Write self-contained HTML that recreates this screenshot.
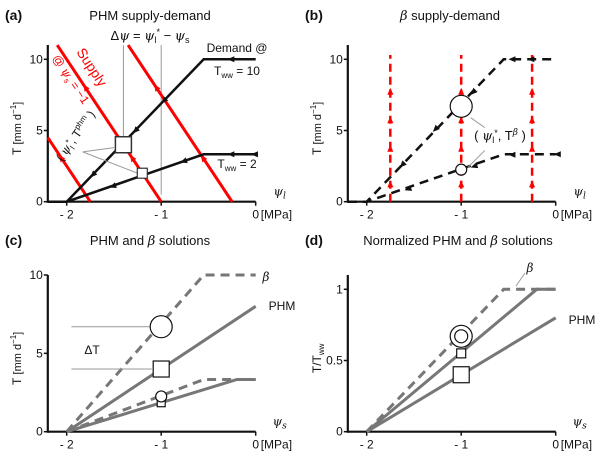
<!DOCTYPE html>
<html><head><meta charset="utf-8">
<style>
body{margin:0;background:#fff;}
svg{display:block;font-family:"Liberation Sans","DejaVu Sans",sans-serif;}
.t{font-size:13px;fill:#111}
.tk{font-size:12px;fill:#111}
.pl{font-size:14px;font-weight:bold;fill:#111}
.gi{font-family:"DejaVu Serif","Liberation Serif",serif;font-style:italic}
</style></head>
<body>
<svg id="fig" width="600" height="455" viewBox="0 0 600 455">
<g id="root"></g>
</svg>
<script>
// ---- data ----
const xTicks = [-2, -1, 0];
const xTickLabels = ['- 2', '- 1', '0'];
const tTicks = [0, 5, 10];
const nTicks = [0, 0.5, 1];
const nTickLabels = ['0', '0.5', '1'];
const supplyIntercepts = [-1.75, -1, -0.25];
const supplySlope = 10;
const demandHighPsi = [-2.2, -2, -0.55, 0];
const demandHighT = [0, 0, 10, 10];
const demandLowPsi = [-2.2, -2, -0.55, 0];
const demandLowT = [0, 0, 3.33, 3.33];
const phmHighPsi = [-2, 0];
const phmHighT = [0, 8];
const phmLowPsi = [-2, -0.2, 0];
const phmLowT = [0, 3.33, 3.33];
const betaHighPsi = [-2, -0.55, 0];
const betaHighT = [0, 10, 10];
const betaLowPsi = [-2, -0.55, 0];
const betaLowT = [0, 3.33, 3.33];
const normBetaPsi = [-2, -0.55, 0];
const normBetaT = [0, 1, 1];
const normPhmLowTwwPsi = [-2, -0.2, 0];
const normPhmLowTwwT = [0, 1, 1];
const normPhmHighTwwPsi = [-2, 0];
const normPhmHighTwwT = [0, 0.8];
const phmSolution = [[-1.4, 4], [-1.2, 2]];
const betaSolution = [[-1, 6.7], [-1, 2.25]];
const cSolPhm = [[-1, 4], [-1, 1.85]];
const cSolBeta = [[-1, 6.7], [-1, 2.25]];
const dSol = [[-1, 0.67], [-1, 0.55], [-1, 0.4]];

const NS = 'http://www.w3.org/2000/svg';
const root = document.getElementById('root');
function el(tag, attrs, parent){ const e = document.createElementNS(NS, tag); for (const k in attrs) e.setAttribute(k, attrs[k]); (parent||root).appendChild(e); return e; }
function txt(x, y, s, cls, anchor, parent){ const e = el('text', {x:x, y:y, class:cls, 'text-anchor':anchor||'start'}, parent); e.innerHTML = s; return e; }

function axes(ox, oy, yScale, yMax){
  return { x: v => ox + 94.5 * (v + 2), y: v => oy - yScale * v, ox: ox, oy: oy, yTop: oy - yScale * yMax };
}
const A = axes(66.7, 201.7, 14.24, 11);
const B = axes(366.7, 201.7, 14.24, 11);
const C = axes(66.7, 431.7, 15.67, 10);
const D = axes(366.7, 431.7, 142.4, 1.1);

function poly(ax, xs, ys, style, name){
  const pts = xs.map((v,i) => ax.x(v).toFixed(1) + ',' + ax.y(ys[i]).toFixed(1)).join(' ');
  const p = el('polyline', Object.assign({points: pts, fill:'none'}, style));
  
  
  return p;
}
function arrow(x, y, ang, color, name){
  const g = el('polygon', {points:'0,0 -7,-3 -7,3', fill:color, transform:`translate(${x},${y}) rotate(${ang})`});
  
  
}
function frame(ax, ticks, labels, yLabelHtml, xLabel, name){
  const g = el('g', {});
  
  
  el('line', {x1:ax.x(-2.2), y1:ax.oy, x2:ax.x(0), y2:ax.oy, stroke:'#111', 'stroke-width':2.2}, g);
  el('line', {x1:ax.x(-2.2), y1:ax.oy+1, x2:ax.x(-2.2), y2:ax.yTop, stroke:'#111', 'stroke-width':2.2}, g);
  xTicks.forEach((v,i) => {
    el('line', {x1:ax.x(v), y1:ax.oy, x2:ax.x(v), y2:ax.oy+4, stroke:'#111', 'stroke-width':1.5}, g);
    const t = txt(ax.x(v), ax.oy+17, xTickLabels[i], 'tk', 'middle', g);
    
    
  });
  ticks.forEach((v,i) => {
    el('line', {x1:ax.x(-2.2)-4, y1:ax.y(v), x2:ax.x(-2.2), y2:ax.y(v), stroke:'#111', 'stroke-width':1.5}, g);
    const t = txt(ax.x(-2.2)-5, ax.y(v)+4, labels[i], 'tk', 'end', g);
    
    
  });
  const yl = el('text', {x:0, y:0, class:'tk', 'text-anchor':'middle', transform:`translate(${ax.x(-2.2)-27},${(ax.oy+ax.yTop)/2+5}) rotate(-90)`}, g);
  yl.innerHTML = yLabelHtml;
  
  
  const xl = txt(ax.x(0)+24, ax.oy-6, xLabel, 'tk gi', 'middle', g);
  
  
  const xu = txt(ax.x(0)+5, ax.oy+17, '[MPa]', 'tk', 'start', g);
  
  
}
const tLabel = 'T <tspan font-size="11">[mm d<tspan dy="-5" font-size="8">−1</tspan><tspan dy="5">]</tspan></tspan>';
const psiL = 'ψ<tspan font-size="9" dy="3">l</tspan>';
const psiS = 'ψ<tspan font-size="9" dy="3">s</tspan>';

function heading(x, lbl, y){
  const a = txt(x, y, lbl, 'pl');  
}
const UP_LEFT = -123.5, DL_HIGH = 134, DL_LOW = 161;

// ---------- Panel A ----------
heading(5, '(a)', 20);
let h = txt(150, 20, 'PHM supply-demand', 't', 'middle');  
frame(A, tTicks, ['0','5','10'], tLabel, psiL, 'panel-a-axes');
el('line',{x1:A.x(-1.4),y1:A.y(11),x2:A.x(-1.4),y2:A.y(4.5),stroke:'#999','stroke-width':1});
el('line',{x1:A.x(-1),y1:A.y(11),x2:A.x(-1),y2:A.y(0.5),stroke:'#999','stroke-width':1});
h = txt(150, 40, 'Δ<tspan class="gi">ψ</tspan> = <tspan class="gi">ψ</tspan><tspan font-size="9" dy="3">l</tspan><tspan font-size="9" dy="-8">*</tspan><tspan dy="5"> − </tspan><tspan class="gi">ψ</tspan><tspan font-size="9" dy="3">s</tspan>', 't', 'middle');
 
supplyIntercepts.forEach((c, i) => {
  const lo = Math.max(-2.2, c - 1.1);
  poly(A, [lo, c], [supplySlope*(c-lo), 0], {stroke:'#f00','stroke-width':3}, 'supply-line-' + i);
  [0.3, 0.75].forEach(f => {
    const v = c - 1.1*f; if (v < -2.2) return;
    arrow(A.x(v), A.y(supplySlope*(c-v)), UP_LEFT, '#f00', 'supply-arrow');
  });
});
poly(A, demandHighPsi, demandHighT, {stroke:'#111','stroke-width':2.5}, 'demand-line-tww10');
poly(A, demandLowPsi, demandLowT, {stroke:'#111','stroke-width':2.5}, 'demand-line-tww2');
arrow(A.x(-0.3), A.y(10), 180, '#111', 'demand-arrow');
arrow(A.x(-0.05), A.y(3.33), 180, '#111', 'demand-arrow');
arrow(A.x(-0.3), A.y(3.33), 180, '#111', 'demand-arrow');
arrow(A.x(-1.0), A.y(6.9), DL_HIGH, '#111', 'demand-arrow');
arrow(A.x(-1.3), A.y(4.8), DL_HIGH, '#111', 'demand-arrow');
arrow(A.x(-1.75), A.y(1.7), DL_HIGH, '#111', 'demand-arrow');
arrow(A.x(-0.8), A.y(2.75), DL_LOW, '#111', 'demand-arrow');
arrow(A.x(-1.55), A.y(1.0), DL_LOW, '#111', 'demand-arrow');
el('line',{x1:A.x(-1.83),y1:A.y(3.5),x2:A.x(-1.5),y2:A.y(3.8),stroke:'#999','stroke-width':1});
el('line',{x1:A.x(-1.83),y1:A.y(3.5),x2:A.x(-1.25),y2:A.y(2.0),stroke:'#999','stroke-width':1});
let m = el('rect',{x:A.x(phmSolution[0][0])-8,y:A.y(phmSolution[0][1])-8,width:16,height:16,fill:'#fff',stroke:'#333','stroke-width':1.5});
 
m = el('rect',{x:A.x(phmSolution[1][0])-5,y:A.y(phmSolution[1][1])-5,width:10,height:10,fill:'#fff',stroke:'#333','stroke-width':1.2});
 
h = txt(237, 52, 'Demand @', 'tk', 'middle');  
h = txt(237, 75, 'T<tspan font-size="8" dy="3">ww</tspan><tspan dy="-3"> = 10</tspan>', 'tk', 'middle');  
h = txt(237, 168, 'T<tspan font-size="8" dy="3">ww</tspan><tspan dy="-3"> = 2</tspan>', 'tk', 'middle');  
h = el('text',{x:0,y:0,fill:'#f00','font-size':14,transform:'translate(76,52) rotate(56.5)'}); h.textContent='Supply';  
h = el('text',{x:0,y:0,fill:'#f00','font-size':12,transform:'translate(52,58) rotate(56.5)'}); h.innerHTML='@ <tspan class="gi">ψ</tspan><tspan font-size="8" dy="3">s</tspan><tspan dy="-3"> = −1</tspan>';  
h = el('text',{x:0,y:0,fill:'#111','font-size':12,transform:'translate(62,162) rotate(-55)'}); h.innerHTML='( <tspan class="gi">ψ</tspan><tspan font-size="8" dy="3">l</tspan><tspan font-size="8" dy="-7">*</tspan><tspan dy="4">, T</tspan><tspan font-size="8" dy="-5">phm</tspan><tspan dy="5"> )</tspan>';  

// ---------- Panel B ----------
heading(305, '(b)', 20);
h = txt(450, 20, '<tspan class="gi">β</tspan> supply-demand', 't', 'middle');  
frame(B, tTicks, ['0','5','10'], tLabel, psiL, 'panel-b-axes');
supplyIntercepts.forEach((c, i) => {
  poly(B, [c, c], [0, 10.3], {stroke:'#f00','stroke-width':2.5,'stroke-dasharray':'8,5'}, 'beta-supply-line-' + i);
  [1.5, 4, 6, 8].forEach(t => arrow(B.x(c), B.y(t), -90, '#f00', 'beta-supply-arrow'));
});
poly(B, demandHighPsi, demandHighT, {stroke:'#111','stroke-width':2.5,'stroke-dasharray':'9,6'}, 'beta-demand-tww10');
poly(B, demandLowPsi, demandLowT, {stroke:'#111','stroke-width':2.5,'stroke-dasharray':'9,6'}, 'beta-demand-tww2');
arrow(B.x(-0.5), B.y(10), 180, '#111', 'demand-arrow');
arrow(B.x(-0.3), B.y(10), 180, '#111', 'demand-arrow');
arrow(B.x(-0.02), B.y(3.33), 180, '#111', 'demand-arrow');
arrow(B.x(-0.5), B.y(3.3), 180, '#111', 'demand-arrow');
arrow(B.x(-0.9), B.y(7.5), DL_HIGH, '#111', 'demand-arrow');
arrow(B.x(-1.3), B.y(4.9), DL_HIGH, '#111', 'demand-arrow');
arrow(B.x(-1.65), B.y(2.4), DL_HIGH, '#111', 'demand-arrow');
arrow(B.x(-0.9), B.y(2.4), DL_LOW, '#111', 'demand-arrow');
arrow(B.x(-1.6), B.y(0.8), DL_LOW, '#111', 'demand-arrow');
el('line',{x1:B.x(-0.9),y1:B.y(5.9),x2:B.x(-0.75),y2:B.y(5.2),stroke:'#999','stroke-width':1});
el('line',{x1:B.x(-0.75),y1:B.y(3.6),x2:B.x(-0.93),y2:B.y(2.4),stroke:'#999','stroke-width':1});
m = el('circle',{cx:B.x(betaSolution[0][0]),cy:B.y(betaSolution[0][1]),r:11,fill:'#fff',stroke:'#111','stroke-width':1.2});
 
m = el('circle',{cx:B.x(betaSolution[1][0]),cy:B.y(betaSolution[1][1]),r:5.5,fill:'#fff',stroke:'#111','stroke-width':1.2});
 
h = txt(500, 140, '( <tspan class="gi">ψ</tspan><tspan font-size="9" dy="3">l</tspan><tspan font-size="9" dy="-7">*</tspan><tspan dy="4">, T</tspan><tspan font-size="9" dy="-5" class="gi">β</tspan><tspan dy="5"> )</tspan>', 't', 'middle');
 

// ---------- Panel C ----------
heading(5, '(c)', 245);
h = txt(150, 245, 'PHM and <tspan class="gi">β</tspan> solutions', 't', 'middle');  
frame(C, tTicks, ['0','5','10'], tLabel, psiS, 'panel-c-axes');
const grey = '#777';
poly(C, betaHighPsi, betaHighT, {stroke:grey,'stroke-width':3,'stroke-dasharray':'9,6'}, 'beta-solution-line-high');
poly(C, betaLowPsi, betaLowT, {stroke:grey,'stroke-width':3,'stroke-dasharray':'9,6'}, 'beta-solution-line-low');
poly(C, phmHighPsi, phmHighT, {stroke:grey,'stroke-width':3}, 'phm-solution-line-high');
poly(C, phmLowPsi, phmLowT, {stroke:grey,'stroke-width':3}, 'phm-solution-line-low');
el('line',{x1:C.x(-1.95),y1:C.y(cSolBeta[0][1]),x2:C.x(-1.1),y2:C.y(cSolBeta[0][1]),stroke:'#999','stroke-width':1});
el('line',{x1:C.x(-1.95),y1:C.y(cSolPhm[0][1]),x2:C.x(-1.1),y2:C.y(cSolPhm[0][1]),stroke:'#999','stroke-width':1});
h = txt(92, 354, 'ΔT', 'tk', 'middle');  
m = el('rect',{x:C.x(cSolPhm[1][0])-4,y:C.y(cSolPhm[1][1])-4,width:8,height:8,fill:'#fff',stroke:'#111','stroke-width':1.2});  
m = el('circle',{cx:C.x(cSolBeta[1][0]),cy:C.y(cSolBeta[1][1]),r:5.5,fill:'#fff',stroke:'#111','stroke-width':1.2});  
m = el('rect',{x:C.x(cSolPhm[0][0])-8,y:C.y(cSolPhm[0][1])-8,width:16,height:16,fill:'#fff',stroke:'#111','stroke-width':1.2});  
m = el('circle',{cx:C.x(cSolBeta[0][0]),cy:C.y(cSolBeta[0][1]),r:11,fill:'#fff',stroke:'#111','stroke-width':1.2});  
h = txt(266, 281, 'β', 'tk gi', 'middle');  
h = txt(282, 310, 'PHM', 'tk', 'middle');  

// ---------- Panel D ----------
heading(305, '(d)', 245);
h = txt(458, 245, 'Normalized PHM and <tspan class="gi">β</tspan> solutions', 't', 'middle');  
frame(D, nTicks, nTickLabels, 'T/T<tspan font-size="8" dy="3">ww</tspan>', psiS, 'panel-d-axes');
poly(D, normBetaPsi, normBetaT, {stroke:grey,'stroke-width':3,'stroke-dasharray':'9,6'}, 'norm-beta-line');
poly(D, normPhmLowTwwPsi, normPhmLowTwwT, {stroke:grey,'stroke-width':3}, 'norm-phm-line-tww2');
poly(D, normPhmHighTwwPsi, normPhmHighTwwT, {stroke:grey,'stroke-width':3}, 'norm-phm-line-tww10');
m = el('circle',{cx:D.x(dSol[0][0]),cy:D.y(dSol[0][1]),r:11,fill:'#fff',stroke:'#111','stroke-width':1.2});  
m = el('circle',{cx:D.x(dSol[0][0]),cy:D.y(dSol[0][1]),r:6.5,fill:'#fff',stroke:'#111','stroke-width':1.2});  
m = el('rect',{x:D.x(dSol[1][0])-4.5,y:D.y(dSol[1][1])-4.5,width:9,height:9,fill:'#fff',stroke:'#111','stroke-width':1.2});  
m = el('rect',{x:D.x(dSol[2][0])-8,y:D.y(dSol[2][1])-8,width:16,height:16,fill:'#fff',stroke:'#111','stroke-width':1.2});  
el('line',{x1:516,y1:286,x2:525,y2:273,stroke:'#999','stroke-width':1});
h = txt(530, 272, 'β', 'tk gi', 'middle');  
h = txt(582, 324, 'PHM', 'tk', 'middle');  
</script>
</body></html>
